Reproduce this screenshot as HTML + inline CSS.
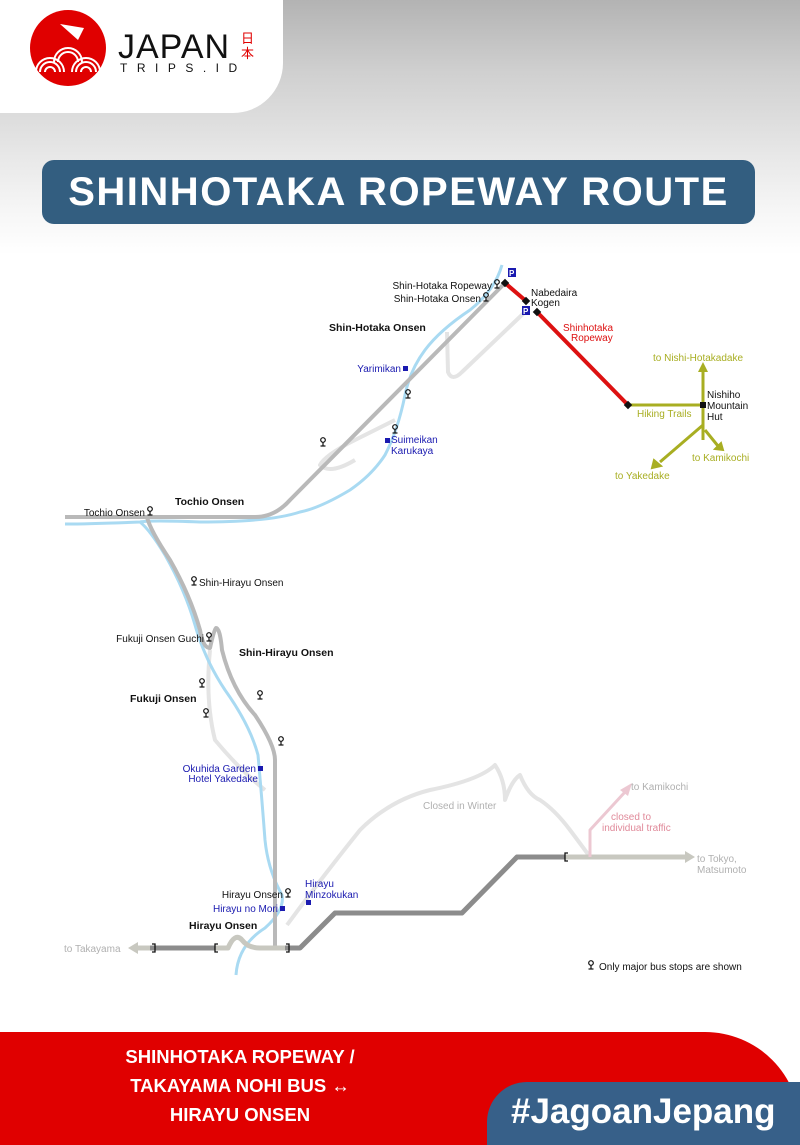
<!DOCTYPE html>
<html><head><meta charset="utf-8"><style>
*{margin:0;padding:0;box-sizing:border-box}
body{width:800px;height:1145px;position:relative;overflow:hidden;background:#fff;font-family:"Liberation Sans",sans-serif}
.bg{position:absolute;left:0;top:0;width:800px;height:260px;background:linear-gradient(#b3b3b3 0px,#cfcfcf 70px,#e6e6e6 150px,#f6f6f6 210px,#fff 255px)}
.panel{position:absolute;left:0;top:0;width:283px;height:113px;background:#fff;border-bottom-right-radius:50px}
.banner{position:absolute;left:42px;top:160px;width:713px;height:64px;background:#335e80;border-radius:12px;color:#fff;font-weight:bold;font-size:40px;text-align:center;line-height:64px;letter-spacing:1.5px}
.footer{position:absolute;left:0;top:1032px;width:800px;height:113px;background:#e00000;border-top-right-radius:95px}
.ftxt{position:absolute;left:70px;top:1042px;width:340px;text-align:center;color:#fff;font-weight:bold;font-size:18.5px;line-height:29px}
.tag{position:absolute;left:487px;top:1082px;width:313px;height:63px;background:#376089;border-top-left-radius:40px;color:#fff;font-weight:bold;font-size:35px;line-height:60px;padding-left:24px}
svg{position:absolute;left:0;top:0}
</style></head><body>
<div class="bg"></div>
<div class="panel"></div>
<svg width="290" height="113">
<circle cx="68" cy="48" r="38" fill="#e00000"/>
<path d="M60 24 L84 28 L78 40 Z" fill="#fff"/>
<path d="M36 72 a14 14 0 0 1 28 0 M40 72 a10 10 0 0 1 20 0 M45 72 a5 5 0 0 1 10 0 M72 72 a14 14 0 0 1 28 0 M76 72 a10 10 0 0 1 20 0 M81 72 a5 5 0 0 1 10 0 M54 62 a14 14 0 0 1 28 0 M58 62 a10 10 0 0 1 20 0" stroke="#fff" stroke-width="2" fill="none"/>
<text x="118" y="58" font-size="34" font-family="Liberation Sans" fill="#111" letter-spacing="1">JAPAN</text>
<text x="120" y="72" font-size="12" font-family="Liberation Sans" fill="#111" letter-spacing="9.5">TRIPS.ID</text>
<text x="241" y="43" font-size="13" fill="#e00000" font-family="Noto Sans CJK JP,sans-serif">日</text>
<text x="241" y="58" font-size="13" fill="#e00000" font-family="Noto Sans CJK JP,sans-serif">本</text>
</svg>
<div class="banner">SHINHOTAKA ROPEWAY ROUTE</div>

<svg width="800" height="1000" font-family="Liberation Sans,sans-serif" font-size="10">
<defs>
<g id="bs"><circle cx="0" cy="-3" r="2.3" fill="none" stroke="#111" stroke-width="1.2"/><line x1="0" y1="-0.5" x2="0" y2="3" stroke="#111" stroke-width="1.2"/><line x1="-2.5" y1="3" x2="2.5" y2="3" stroke="#111" stroke-width="1.2"/></g>
</defs>
<g fill="none" stroke="#e4e4e4" stroke-width="4" stroke-linejoin="round">
<path d="M525 312 L462 372 Q452 382 448 372 L447 332"/>
<path d="M395 420 L355 440 Q325 455 320 465 Q330 475 355 460"/>
<path d="M210 650 Q205 700 215 740 Q240 770 265 790"/>
<path d="M287 925 Q320 880 360 830 Q390 800 430 790 Q480 780 495 765 Q505 780 505 800 Q512 780 520 775 Q528 795 540 800 Q555 810 570 830 Q585 850 590 857"/>
</g>
<g fill="none" stroke="#a9daf2" stroke-width="3" stroke-linejoin="round">
<path d="M502 265 Q495 290 470 310 Q440 330 425 350 Q410 370 405 395 Q398 430 385 455 Q372 475 350 490 Q320 508 300 512 Q270 522 200 522 Q150 520 140 522 Q90 524 65 524"/>
<path d="M140 522 Q150 530 165 555 Q185 590 195 625 Q205 660 225 690 Q250 725 258 755 Q262 800 265 840 Q268 870 282 895 Q285 910 265 928 Q238 945 236 975"/>
</g>
<g fill="none" stroke="#b9b9b9" stroke-width="4" stroke-linejoin="round">
<path d="M505 283 L290 500 Q275 517 255 517 L65 517"/>
<path d="M147 517 Q150 530 170 560 Q190 595 200 630 Q203 648 210 648 Q214 630 216 628 Q220 628 222 650 Q232 690 255 715 Q275 745 275 760 L275 950"/>
</g>
<g fill="none" stroke-linejoin="round">
<path d="M150 948 L215 948" stroke="#8c8c8c" stroke-width="5"/>
<path d="M215 948 L228 948 Q235 932 242 940 Q248 948 260 948 L285 948" stroke="#c8c8c0" stroke-width="5"/>
<path d="M285 948 L300 948 L335 913 L462 913 L517 857 L565 857" stroke="#8c8c8c" stroke-width="5"/>
<path d="M565 857 L685 857" stroke="#c8c8c0" stroke-width="5"/>
<path d="M150 948 L138 948" stroke="#c8c8c0" stroke-width="5"/>
<path d="M590 857 L590 830 L625 792" stroke="#ecc8d2" stroke-width="3"/>
</g>
<polygon points="685,851 695,857 685,863" fill="#c8c8c0"/>
<polygon points="138,942 128,948 138,954" fill="#c8c8c0"/>
<polygon points="620,790 632,783 628,796" fill="#ecc8d2"/>
<g fill="none" stroke="#111" stroke-width="1.3">
<path d="M152 944 h3 v8 h-3"/><path d="M218 944 h-3 v8 h3"/><path d="M286 944 h3 v8 h-3"/><path d="M568 853 h-3 v8 h3"/>
</g>
<g stroke="#dd1111" stroke-width="4"><line x1="505" y1="283" x2="526" y2="301"/><line x1="537" y1="312" x2="628" y2="405"/></g>
<g stroke="#a8ae22" stroke-width="3" fill="none"><path d="M628 405 L703 405"/><path d="M703 370 L703 440"/><path d="M703 425 L660 462"/><path d="M705 430 L718 446"/></g>
<polygon points="698,372 703,362 708,372" fill="#a8ae22"/>
<polygon points="654,460 652,468 661,466" fill="#a8ae22" stroke="#a8ae22" stroke-width="2"/>
<polygon points="721,443 723,450 715,449" fill="#a8ae22" stroke="#a8ae22" stroke-width="2"/>
<g fill="#111"><rect x="502" y="280" width="6" height="6" transform="rotate(45 505 283)"/><rect x="523" y="298" width="6" height="6" transform="rotate(45 526 301)"/><rect x="534" y="309" width="6" height="6" transform="rotate(45 537 312)"/><rect x="625" y="402" width="6" height="6" transform="rotate(45 628 405)"/><rect x="700" y="402" width="6" height="6"/></g>
<g fill="#1a1ab0"><rect x="508" y="268" width="8" height="9"/><rect x="522" y="306" width="8" height="9"/></g>
<g fill="#fff" font-size="8" font-weight="bold"><text x="509" y="276">P</text><text x="523" y="314">P</text></g>
<use href="#bs" x="497" y="285"/><use href="#bs" x="486" y="298"/><use href="#bs" x="408" y="395"/><use href="#bs" x="395" y="430"/><use href="#bs" x="323" y="443"/><use href="#bs" x="150" y="512"/><use href="#bs" x="194" y="582"/><use href="#bs" x="209" y="638"/><use href="#bs" x="202" y="684"/><use href="#bs" x="206" y="714"/><use href="#bs" x="260" y="696"/><use href="#bs" x="281" y="742"/><use href="#bs" x="288" y="894"/><use href="#bs" x="591" y="966"/>
<g fill="#1a1ab0"><rect x="403" y="366" width="5" height="5"/><rect x="385" y="438" width="5" height="5"/><rect x="258" y="766" width="5" height="5"/><rect x="280" y="906" width="5" height="5"/><rect x="306" y="900" width="5" height="5"/></g>
<g fill="#111">
<text x="492" y="289" text-anchor="end">Shin-Hotaka Ropeway</text>
<text x="481" y="302" text-anchor="end">Shin-Hotaka Onsen</text>
<text x="531" y="296">Nabedaira</text><text x="531" y="306">Kogen</text>
<text x="707" y="398">Nishiho</text><text x="707" y="409">Mountain</text><text x="707" y="420">Hut</text>
<text x="145" y="516" text-anchor="end">Tochio Onsen</text>
<text x="199" y="586">Shin-Hirayu Onsen</text>
<text x="204" y="642" text-anchor="end">Fukuji Onsen Guchi</text>
<text x="283" y="898" text-anchor="end">Hirayu Onsen</text>
<text x="599" y="970">Only major bus stops are shown</text>
</g>
<g fill="#111" font-weight="bold" font-size="10.5">
<text x="329" y="331">Shin-Hotaka Onsen</text>
<text x="175" y="505">Tochio Onsen</text>
<text x="239" y="656">Shin-Hirayu Onsen</text>
<text x="130" y="702">Fukuji Onsen</text>
<text x="189" y="929">Hirayu Onsen</text>
</g>
<g fill="#1a1ab0">
<text x="401" y="372" text-anchor="end">Yarimikan</text>
<text x="391" y="443">Suimeikan</text><text x="391" y="454">Karukaya</text>
<text x="256" y="772" text-anchor="end">Okuhida Garden</text><text x="258" y="782" text-anchor="end">Hotel Yakedake</text>
<text x="278" y="912" text-anchor="end">Hirayu no Mori</text>
<text x="305" y="887">Hirayu</text><text x="305" y="898">Minzokukan</text>
</g>
<g fill="#dd1111"><text x="563" y="331">Shinhotaka</text><text x="571" y="341">Ropeway</text></g>
<g fill="#a8ae22"><text x="653" y="361">to Nishi-Hotakadake</text><text x="637" y="417">Hiking Trails</text><text x="692" y="461">to Kamikochi</text><text x="615" y="479">to Yakedake</text></g>
<g fill="#b0b0b0"><text x="423" y="809">Closed in Winter</text><text x="631" y="790">to Kamikochi</text><text x="697" y="862">to Tokyo,</text><text x="697" y="873">Matsumoto</text><text x="64" y="952">to Takayama</text></g>
<g fill="#e08a9a"><text x="611" y="820">closed to</text><text x="602" y="831">individual traffic</text></g>
</svg>

<div class="footer"></div>
<div class="ftxt">SHINHOTAKA ROPEWAY /<br>TAKAYAMA NOHI BUS ↔<br>HIRAYU ONSEN</div>
<div class="tag">#JagoanJepang</div>
</body></html>
